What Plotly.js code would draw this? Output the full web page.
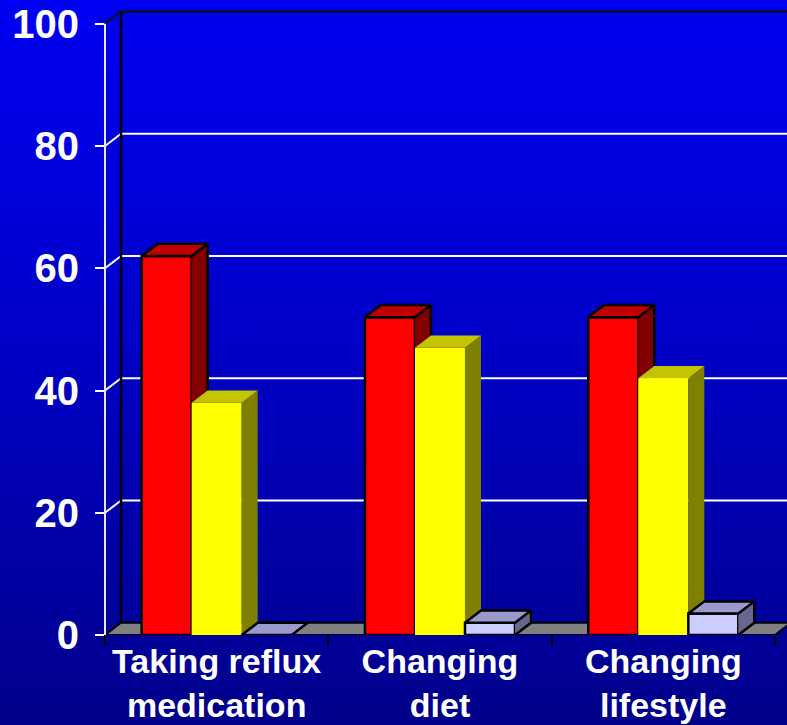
<!DOCTYPE html>
<html><head><meta charset="utf-8">
<script src="https://cdn.plot.ly/plotly-3.0.1.min.js"></script>
<style>
html,body{margin:0;padding:0;background:#00008A;}
#chart{width:787px;height:725px;background:linear-gradient(to bottom,#0000F2 0%,#0000C4 50%,#00008A 100%);}
</style>
</head><body><div id="chart"></div>
<script>
// ---- data ----
const categories = ['Taking reflux<br>medication', 'Changing<br>diet', 'Changing<br>lifestyle'];
const categoryPos = [0, 1, 2];
const seriesNames = ['Series 1', 'Series 2', 'Series 3'];
const redValues = [62, 52, 52];
const yellowValues = [38, 47, 42];
const lavenderValues = [0, 2, 3.5];
const yTickVals = [0, 20, 40, 60, 80, 100];
const yGridVals = [20, 40, 60, 80];
const categoryBounds = [-0.5, 0.5, 1.5, 2.5];

// ---- styles ----
const frontColors = ['#FF0000', '#FFFF00', '#CCCCFF'];
const topColors = ['#C00000', '#C4C400', '#9999CC'];
const sideColors = ['#800000', '#808000', '#66668F'];
const outlined = [true, false, true];
const GAP = 0.328, DX = 0.0717, DY = 2, X0 = -0.5, X1 = 2.5, XMAX = 2.554, YMAX = 103.4, YTOP = 100;
const FONT = 'Liberation Sans, Arial, sans-serif';

const series = [redValues, yellowValues, lavenderValues];
const bw = (1 - GAP) / series.length;
const traces = [];

series.forEach((vals, s) => {
  traces.push({
    type: 'bar', x: categoryPos, y: vals, name: seriesNames[s],
    marker: {color: frontColors[s], line: {color: outlined[s] ? '#000' : frontColors[s], width: outlined[s] ? 2.5 : 0}},
    hoverinfo: 'skip'
  });
});

series.forEach((vals, s) => {
  const sx = [], sy = [], tx = [], ty = [], ox = [], oy = [];
  vals.forEach((v, i) => {
    const xl = categoryPos[i] + (s - (series.length - 1) / 2) * bw - bw / 2;
    const xr = xl + bw;
    const b = s < series.length - 1 ? series[s + 1][i] : 0;
    if (v > b) {
      sx.push(xr, xr, xr + DX, xr + DX, xr, null);
      sy.push(b, v, v + DY, b + DY, b, null);
    }
    tx.push(xl, xr, xr + DX, xl + DX, xl, null);
    ty.push(v, v, v + DY, v + DY, v, null);
    ox.push(xl, xr, xr + DX, xl + DX, xl, null);
    oy.push(v, v, v + DY, v + DY, v, null);
    if (v > b) {
      if (b === 0) { ox.push(xr + DX, xr + DX, xr, null); oy.push(v + DY, b + DY, 0, null); }
      else { ox.push(xr + DX, xr + DX, null); oy.push(v + DY, b + DY, null); }
    }
  });
  traces.push({type: 'scatter', mode: 'lines', x: sx, y: sy, fill: 'toself', fillcolor: sideColors[s], line: {width: 0, color: sideColors[s]}, hoverinfo: 'skip', showlegend: false});
  traces.push({type: 'scatter', mode: 'lines', x: tx, y: ty, fill: 'toself', fillcolor: topColors[s], line: {width: 0, color: topColors[s]}, hoverinfo: 'skip', showlegend: false});
  if (outlined[s]) {
    traces.push({type: 'scatter', mode: 'lines', x: ox, y: oy, line: {width: 2.5, color: '#000'}, hoverinfo: 'skip', showlegend: false});
  }
});

// ---- walls, floor, grid ----
const shapes = [];
shapes.push({type: 'path', xref: 'x', yref: 'y', layer: 'below',
  path: `M ${X0},0 L ${X0 + DX},${DY} L ${X1 + DX},${DY} L ${X1},0 Z`,
  fillcolor: '#808080', line: {color: '#000', width: 2}});
yGridVals.forEach(v => {
  shapes.push({type: 'line', xref: 'x', yref: 'y', layer: 'below', x0: X0 + DX, x1: XMAX + 1, y0: v + DY, y1: v + DY, line: {color: '#FFFFFF', width: 2}});
  shapes.push({type: 'line', xref: 'x', yref: 'y', layer: 'below', x0: X0, x1: X0 + DX, y0: v, y1: v + DY, line: {color: '#FFFFFF', width: 2}});
});
shapes.push({type: 'line', xref: 'x', yref: 'y', layer: 'below', x0: X0 + DX, x1: XMAX + 1, y0: YTOP + DY, y1: YTOP + DY, line: {color: '#111', width: 2.5}});
shapes.push({type: 'line', xref: 'x', yref: 'y', layer: 'below', x0: X0, x1: X0 + DX, y0: YTOP, y1: YTOP + DY, line: {color: '#111', width: 2}});
shapes.push({type: 'line', xref: 'x', yref: 'y', layer: 'below', x0: X0 + DX, x1: X0 + DX, y0: DY, y1: YTOP + DY, line: {color: '#000', width: 2.5}});
shapes.push({type: 'line', xref: 'paper', yref: 'y', layer: 'above', x0: 0, x1: 0, y0: 0, y1: YTOP, line: {color: '#E8E8E8', width: 2}});

const layout = {
  width: 787, height: 725,
  margin: {l: 105, r: 0, t: 3, b: 90, pad: 0},
  paper_bgcolor: 'rgba(0,0,0,0)', plot_bgcolor: 'rgba(0,0,0,0)',
  showlegend: false, barmode: 'group', bargap: GAP, bargroupgap: 0,
  xaxis: {
    range: [X0, XMAX], tickmode: 'array', tickvals: categoryPos, ticktext: categories,
    ticks: '', showgrid: false, zeroline: false, showline: false, fixedrange: true,
    tickfont: {family: FONT, size: 34, color: '#FFFFFF', weight: 'bold'},
    ticklabelstandoff: 3, ticklabeloverflow: 'allow',
    minor: {tickmode: 'array', tickvals: categoryBounds, ticks: 'outside', ticklen: 10, tickwidth: 2, tickcolor: '#000', showgrid: false}
  },
  yaxis: {
    range: [0, YMAX], tickmode: 'array', tickvals: yTickVals,
    ticks: 'outside', ticklen: 9, tickwidth: 2, tickcolor: '#FFFFFF',
    showgrid: false, zeroline: false, showline: false, fixedrange: true,
    tickfont: {family: FONT, size: 40, color: '#FFFFFF', weight: 'bold'},
    ticklabelstandoff: 8, ticklabeloverflow: 'allow'
  },
  shapes: shapes
};
Plotly.newPlot('chart', traces, layout, {displayModeBar: false, staticPlot: true});
</script>
</body></html>
